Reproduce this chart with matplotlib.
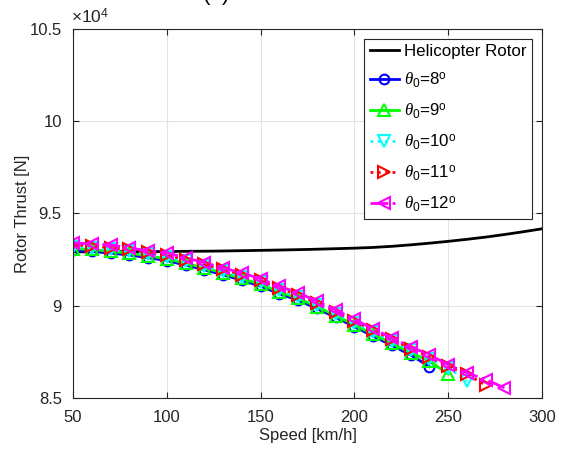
import matplotlib.pyplot as plt

plt.rcParams['font.family'] = ['Liberation Sans', 'DejaVu Sans']
plt.rcParams['mathtext.fontset'] = 'custom'
plt.rcParams['mathtext.rm'] = 'Liberation Sans'
plt.rcParams['mathtext.it'] = 'Liberation Serif:italic'

# thrust values in units of 1e4 N
heli_speed = [50, 75, 100, 125, 150, 175, 200, 210, 220, 230, 240, 250,
              260, 270, 280, 290, 300]
heli_thrust = [9.292, 9.293, 9.294, 9.296, 9.300, 9.305, 9.312, 9.316, 9.322,
               9.330, 9.339, 9.349, 9.360, 9.372, 9.386, 9.401, 9.417]

speed = [50, 60, 70, 80, 90, 100, 110, 120, 130, 140, 150, 160, 170, 180,
         190, 200, 210, 220, 230, 240, 250, 260, 270, 280]

thrust_8 = [9.300, 9.295, 9.285, 9.275, 9.260, 9.245, 9.220, 9.195, 9.168, 9.138,
            9.106, 9.065, 9.030, 8.985, 8.937, 8.886, 8.835, 8.785, 8.733, 8.670]
thrust_9 = [9.310, 9.305, 9.295, 9.285, 9.270, 9.255, 9.230, 9.205, 9.178, 9.148,
            9.116, 9.075, 9.040, 8.995, 8.947, 8.897, 8.846, 8.796, 8.746, 8.700, 8.630]
thrust_10 = [9.320, 9.315, 9.305, 9.295, 9.280, 9.265, 9.240, 9.215, 9.188, 9.158,
             9.126, 9.085, 9.050, 9.005, 8.957, 8.907, 8.857, 8.807, 8.758, 8.713,
             8.665, 8.590]
thrust_11 = [9.330, 9.325, 9.315, 9.305, 9.290, 9.275, 9.250, 9.225, 9.197, 9.168,
             9.137, 9.095, 9.060, 9.015, 8.968, 8.917, 8.867, 8.817, 8.768, 8.724,
             8.672, 8.628, 8.570]
thrust_12 = [9.340, 9.335, 9.330, 9.314, 9.297, 9.287, 9.260, 9.234, 9.205, 9.178,
             9.146, 9.105, 9.070, 9.025, 8.978, 8.926, 8.875, 8.826, 8.777, 8.734,
             8.680, 8.636, 8.600, 8.555]

fig = plt.figure(figsize=(5.64, 4.5), dpi=100)
ax = fig.add_axes([0.1294, 0.1156, 0.8316, 0.82])

ax.plot(heli_speed, heli_thrust, color='black', lw=2, label='Helicopter Rotor')

series = [
    (thrust_8, 'blue', '-', 'o', 7, 8),
    (thrust_9, '#00ff00', '-', '^', 8, 9),
    (thrust_10, 'cyan', ':', 'v', 8, 10),
    (thrust_11, 'red', ':', '>', 8, 11),
    (thrust_12, 'magenta', '-.', '<', 8, 12),
]
for vals, col, ls, mk, ms, th in series:
    ax.plot(speed[:len(vals)], vals, color=col, ls=ls, lw=2, marker=mk,
            markersize=ms, mfc='none', mew=1.5,
            label=r'$\theta_0$=%d$^{\rm o}$' % th)

ax.set_xlim(50, 300)
ax.set_ylim(8.5, 10.5)
ax.set_xticks([50, 100, 150, 200, 250, 300])
ax.set_yticks([8.5, 9, 9.5, 10, 10.5])
ax.set_yticklabels(['8.5', '9', '9.5', '10', '10.5'])
ax.grid(True, color='#e3e3e3', lw=0.8)
ax.set_axisbelow(True)
ax.tick_params(direction='in', top=True, right=True, labelsize=12,
               colors='#262626', length=4)
ax.tick_params(axis='x', pad=9)
ax.tick_params(axis='y', pad=8)
for s in ax.spines.values():
    s.set_color('#262626')
    s.set_linewidth(0.8)

ax.set_xlabel('Speed [km/h]', fontsize=12, color='#262626', labelpad=2)
ax.set_ylabel('Rotor Thrust [N]', fontsize=12, color='#262626', labelpad=0)
ax.text(-0.005, 1.008, r'$\times10^4$', transform=ax.transAxes, fontsize=12.5,
        color='#262626', va='bottom', ha='left')

fig.text(0.383, 1.0, '(a)', fontsize=16, ha='center', va='baseline')

leg = ax.legend(loc='upper right', fontsize=12.2, fancybox=False,
                edgecolor='#262626', framealpha=1, borderaxespad=0.6,
                handlelength=1.75, labelspacing=0.67, handletextpad=0.3,
                borderpad=0.3)
leg.get_frame().set_linewidth(0.8)

fig.savefig('out.png', dpi=100)
